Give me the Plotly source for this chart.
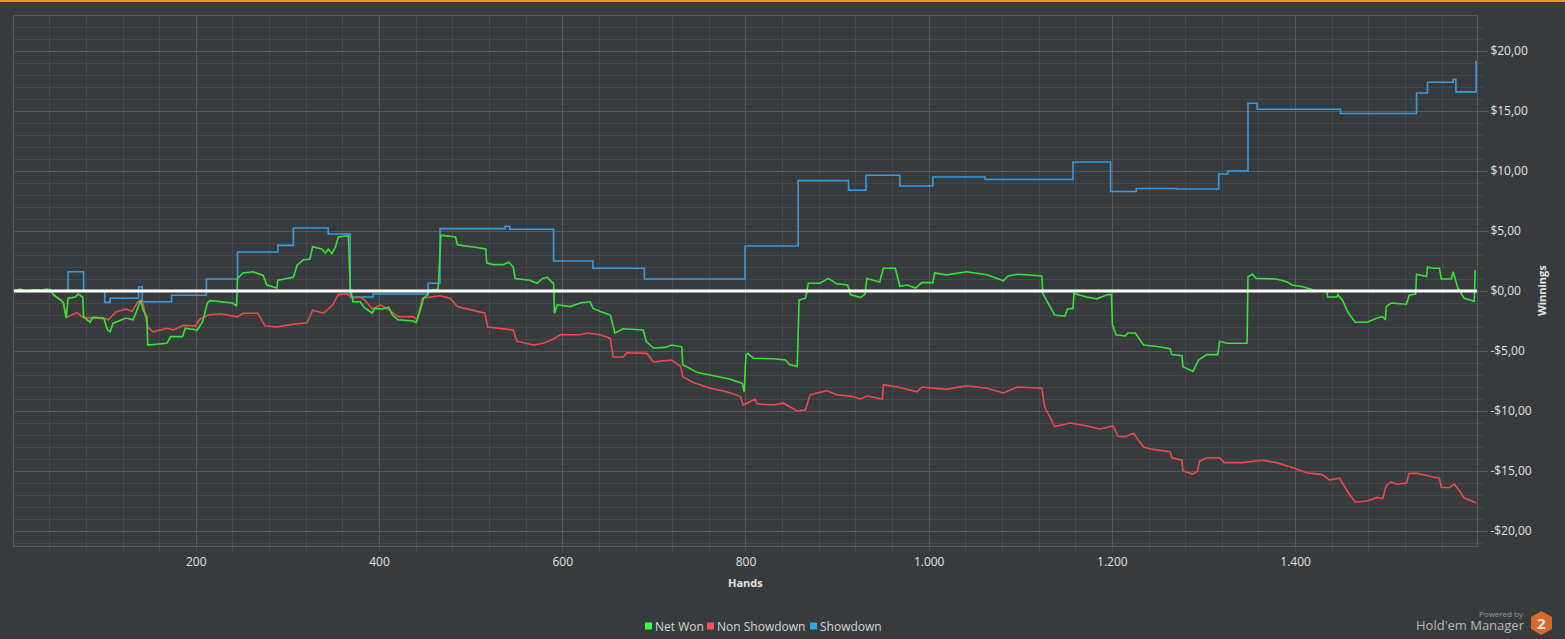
import plotly.graph_objects as go

# hands / values
net_hands = [1, 8, 15, 22, 30, 36, 41, 44, 52, 55, 58, 60, 68, 71, 76, 77, 84, 87, 99, 103, 106, 109, 123, 131,
             136, 139, 142, 146, 147, 157, 168, 172, 185, 188, 201, 207, 212, 215, 240, 244, 245, 251, 262, 273,
             277, 288, 289, 306, 310, 317, 324, 327, 337, 341, 344, 348, 352, 355, 366, 368, 371, 379, 383, 392,
             395, 403, 410, 414, 420, 437, 440, 445, 448, 453, 454, 464, 467, 483, 485, 504, 516, 517, 524, 535,
             541, 546, 548, 564, 572, 578, 583, 588, 590, 591, 594, 608, 619, 630, 633, 641, 652, 657, 666, 688,
             691, 699, 712, 719, 730, 731, 747, 761, 770, 783, 796, 798, 800, 802, 808, 830, 843, 848, 856, 858,
             865, 868, 881, 890, 899, 911, 914, 925, 930, 932, 946, 950, 963, 966, 968, 976, 985, 992, 1004, 1006,
             1019, 1041, 1063, 1081, 1086, 1097, 1123, 1124, 1132, 1137, 1148, 1151, 1157, 1158, 1172, 1183, 1195,
             1199, 1200, 1204, 1214, 1217, 1225, 1234, 1247, 1263, 1265, 1276, 1277, 1288, 1294, 1303, 1315, 1317,
             1325, 1347, 1348, 1353, 1357, 1379, 1391, 1396, 1408, 1423, 1434, 1435, 1445, 1446, 1451, 1457, 1465,
             1478, 1489, 1495, 1498, 1499, 1504, 1521, 1524, 1531, 1532, 1543, 1544, 1550, 1557, 1559, 1570, 1572,
             1577, 1584, 1593, 1595, 1596]
net_won = [0.05, 0.15, 0.0, 0.1, 0.05, 0.15, 0.1, -0.3, -0.75, -1.0, -2.25, -0.6, -0.5, -0.25, -0.5, -2.15, -2.6,
           -2.2, -2.25, -3.25, -3.4, -2.7, -2.25, -2.4, -1.45, -0.75, -1.6, -2.15, -4.5, -4.4, -4.35, -3.8, -3.8,
           -3.1, -3.25, -2.55, -1.0, -0.8, -1.0, -1.25, 1.05, 1.5, 1.6, 1.3, 0.5, 0.25, 0.9, 1.15, 2.15, 2.6, 2.65,
           3.7, 3.5, 3.15, 3.5, 3.1, 3.7, 4.5, 4.6, 0.35, -0.9, -0.9, -1.35, -1.85, -1.45, -1.5, -1.35, -2.0, -2.4,
           -2.5, -2.65, -1.45, -0.6, -0.3, 0.05, 0.15, 4.65, 4.5, 3.85, 3.65, 3.5, 2.35, 2.2, 2.2, 2.4, 2.0, 1.05,
           0.9, 0.65, 1.05, 1.15, 0.75, 0.65, -1.85, -1.15, -1.3, -1.0, -0.9, -1.45, -1.7, -2.0, -3.5, -3.15,
           -3.25, -4.2, -4.75, -4.7, -4.5, -4.65, -6.15, -6.8, -7.0, -7.15, -7.35, -7.7, -8.4, -5.35, -5.2, -5.6,
           -5.65, -5.75, -6.15, -6.3, -0.75, -0.6, 0.65, 0.65, 1.05, 0.6, 0.5, -0.3, -0.55, -0.25, 1.05, 0.75, 1.9,
           1.9, 1.05, 0.4, 0.5, 0.25, 0.7, 0.7, 1.5, 1.35, 1.6, 1.35, 0.85, 1.25, 1.4, 1.25, -0.2, -1.3, -2.0,
           -2.1, -1.5, -1.45, -0.2, -0.5, -0.65, -0.3, -0.3, -2.8, -3.65, -3.75, -3.5, -3.5, -4.5, -4.6, -4.8,
           -5.3, -5.4, -6.3, -6.7, -5.75, -5.3, -5.3, -4.2, -4.35, -4.35, 1.2, 1.4, 1.05, 1.0, 0.75, 0.5, 0.35,
           0.0, 0.0, -0.5, -0.5, -0.3, -0.75, -1.75, -2.6, -2.6, -2.25, -2.15, -2.4, -1.3, -1.0, -1.1, -0.35,
           -0.25, 1.4, 1.2, 2.0, 1.9, 1.9, 1.0, 1.0, 1.6, 0.25, -0.6, -0.8, -0.9, 1.75]

nsd_hands = [1, 8, 15, 22, 30, 36, 41, 44, 52, 55, 58, 70, 76, 101, 104, 112, 123, 130, 136, 141, 147, 153, 168,
             175, 186, 199, 204, 213, 226, 245, 251, 267, 275, 288, 303, 321, 327, 339, 349, 355, 365, 371, 379,
             384, 392, 401, 412, 420, 437, 441, 447, 455, 466, 477, 485, 499, 515, 518, 532, 546, 550, 568, 579,
             590, 597, 619, 627, 641, 652, 655, 666, 670, 692, 699, 719, 729, 731, 742, 761, 779, 794, 797, 810,
             812, 830, 841, 856, 865, 870, 888, 899, 917, 925, 932, 949, 950, 965, 987, 992, 1019, 1041, 1063, 1081,
             1096, 1123, 1126, 1132, 1137, 1154, 1170, 1186, 1201, 1206, 1214, 1223, 1234, 1244, 1263, 1265, 1276,
             1277, 1288, 1293, 1295, 1303, 1317, 1322, 1342, 1364, 1379, 1394, 1412, 1429, 1437, 1448, 1457, 1465,
             1478, 1489, 1495, 1499, 1504, 1510, 1521, 1524, 1533, 1550, 1557, 1559, 1568, 1573, 1579, 1584, 1597]
non_showdown = [0.05, 0.15, 0.0, 0.1, 0.05, 0.15, 0.1, -0.3, -0.75, -1.0, -2.2, -1.8, -2.2, -2.3, -2.4, -1.75,
                -1.5, -1.7, -0.9, -0.75, -3.0, -3.4, -3.1, -3.25, -2.85, -2.9, -2.35, -2.0, -1.9, -2.15, -1.85,
                -1.85, -2.9, -3.0, -2.8, -2.65, -1.6, -1.85, -1.15, -0.3, -0.25, -0.6, -0.5, -0.75, -1.5, -1.15,
                -1.65, -2.15, -2.15, -2.4, -0.6, -0.5, -0.4, -0.6, -1.3, -1.55, -1.85, -3.0, -3.1, -3.25, -4.2,
                -4.5, -4.35, -4.0, -3.65, -3.65, -3.5, -3.65, -3.95, -5.5, -5.5, -5.15, -5.2, -5.9, -5.75, -6.3,
                -7.15, -7.6, -8.1, -8.4, -8.8, -9.5, -9.0, -9.4, -9.5, -9.35, -10.0, -9.9, -8.65, -8.3, -8.65,
                -8.8, -9.0, -8.75, -9.0, -7.8, -8.0, -8.4, -8.0, -8.2, -7.9, -8.1, -8.5, -8.0, -8.1, -9.65, -10.5,
                -11.3, -11.0, -11.2, -11.5, -11.25, -12.1, -12.15, -11.85, -13.0, -13.2, -13.4, -13.9, -14.1, -15.0,
                -15.25, -15.0, -14.2, -13.9, -13.9, -14.3, -14.3, -14.1, -14.3, -14.65, -15.15, -15.3, -15.75,
                -15.6, -16.75, -17.6, -17.5, -17.2, -17.3, -16.2, -15.9, -16.1, -16.0, -15.2, -15.2, -15.5, -15.6,
                -16.35, -16.4, -16.1, -16.65, -17.25, -17.65]

sd_hands = [1, 60, 77, 100, 106, 137, 141, 173, 211, 245, 289, 306, 344, 368, 393, 453, 466, 537, 542, 590, 633,
            689, 799, 857, 912, 931, 968, 1004, 1061, 1157, 1198, 1226, 1270, 1316, 1326, 1348, 1358, 1449, 1532,
            1544, 1572, 1575, 1596, 1597]
showdown = [0.0, 1.6, 0.0, -0.95, -0.6, 0.35, -0.9, -0.35, 1.0, 3.25, 3.8, 5.25, 4.75, -0.5, -0.25, 0.65, 5.2,
            5.4, 5.15, 2.5, 1.9, 1.0, 3.75, 9.2, 8.4, 9.65, 8.75, 9.5, 9.3, 10.75, 8.3, 8.55, 8.5, 9.75, 10.0,
            15.65, 15.15, 14.8, 16.5, 17.4, 17.65, 16.6, 16.6, 19.2]

x_ticks = [200, 400, 600, 800, 1000, 1200, 1400]
x_labels = ['200', '400', '600', '800', '1.000', '1.200', '1.400']
y_ticks = [20, 15, 10, 5, 0, -5, -10, -15, -20]
y_labels = ['$20,00', '$15,00', '$10,00', '$5,00', '$0,00', '-$5,00', '-$10,00', '-$15,00', '-$20,00']

series = ['Net Won', 'Non Showdown', 'Showdown']
colors = ['#36e436', '#e84c4c', '#3a9be0']
legend_colors = ['#33ff44', '#ff4f4f', '#33a6ee']

BG = '#383b3e'
MAJOR = '#56595d'
MINOR = '#45484c'
TXT = '#e2e2e2'
FONT = 'Open Sans'

W, H = 1565, 639
L, R, T, B = 14, 88, 16, 93


def px(x):
    return (x - L) / (W - L - R)


def py(y):
    return (H - B - y) / (H - T - B)


def note(text, x, y, size, color, xanchor='center', **kw):
    return dict(text=text, x=px(x), y=py(y), xref='paper', yref='paper', showarrow=False,
                xanchor=xanchor, yanchor='middle', font=dict(family=FONT, size=size, color=color), **kw)


fig = go.Figure()
fig.add_trace(go.Scatter(x=sd_hands, y=showdown, mode='lines', line=dict(color=colors[2], width=1.6, shape='hv'),
                         name=series[2], showlegend=False, hoverinfo='skip'))
fig.add_trace(go.Scatter(x=nsd_hands, y=non_showdown, mode='lines', line=dict(color=colors[1], width=1.6),
                         name=series[1], showlegend=False, hoverinfo='skip'))
fig.add_trace(go.Scatter(x=net_hands, y=net_won, mode='lines', line=dict(color=colors[0], width=1.6),
                         name=series[0], showlegend=False, hoverinfo='skip'))

shapes = [
    # white zero line on top of the series
    dict(type='line', xref='paper', yref='y', x0=0, x1=1, y0=0, y1=0, line=dict(color='white', width=3),
         layer='above'),
    # orange strip at the very top of the page
    dict(type='rect', xref='paper', yref='paper', x0=px(0), x1=px(W), y0=py(0), y1=py(2),
         fillcolor='#e8952a', line=dict(width=0), layer='above'),
    # Hold'em Manager badge
    dict(type='path', xref='paper', yref='paper',
         path='M {} {} L {} {} L {} {} L {} {} L {} {} L {} {} Z'.format(
             px(1541.5), py(611), px(1552), py(617), px(1552), py(629),
             px(1541.5), py(635), px(1531), py(629), px(1531), py(617)),
         fillcolor='#d8692a', line=dict(width=0), layer='above'),
]

annotations = [
    note('<b>Hands</b>', 745, 582, 11, TXT),
    note('<b>Winnings</b>', 1541, 291, 11, TXT, textangle=-90),
    note('Powered by', 1526, 613, 8, '#9a9a9a', xanchor='right'),
    note("Hold'em Manager", 1527, 625, 13, '#b8b8b8', xanchor='right'),
    note('<b>2</b>', 1541.5, 623, 15, '#eeeeee'),
]

# legend drawn as square swatches and names, laid out like the reference
legend_x = [645, 707, 810]
for name, c, lx in zip(series, legend_colors, legend_x):
    shapes.append(dict(type='rect', xref='paper', yref='paper', x0=px(lx), x1=px(lx + 7),
                       y0=py(622.5), y1=py(629.5), fillcolor=c, line=dict(width=0)))
    annotations.append(note(name, lx + 8, 626, 12, '#d6d6d6', xanchor='left'))

fig.update_layout(
    width=W, height=H,
    paper_bgcolor=BG, plot_bgcolor=BG,
    margin=dict(l=L, r=R, t=T, b=B),
    font=dict(family=FONT, size=12, color=TXT),
    showlegend=False,
    shapes=shapes,
    annotations=annotations,
    xaxis=dict(range=[1, 1598], tickmode='array', tickvals=x_ticks, ticktext=x_labels,
               showgrid=True, gridcolor=MAJOR, gridwidth=1, zeroline=False,
               ticks='outside', ticklen=5, tickcolor=MINOR,
               showline=True, linecolor=MAJOR, mirror=True,
               minor=dict(tickmode='linear', tick0=0, dtick=40, showgrid=True, gridcolor=MINOR,
                          ticks='outside', ticklen=5, tickcolor=MINOR),
               tickfont=dict(family=FONT, size=12, color=TXT)),
    yaxis=dict(range=[-21.25, 22.92], side='right', tickmode='array', tickvals=y_ticks, ticktext=y_labels,
               showgrid=True, gridcolor=MAJOR, gridwidth=1, zeroline=False,
               ticks='outside', ticklen=10, tickcolor=MAJOR,
               showline=True, linecolor=MAJOR, mirror=True,
               minor=dict(tickmode='linear', tick0=0, dtick=1, showgrid=True, gridcolor=MINOR,
                          ticks='outside', ticklen=5, tickcolor=MINOR),
               tickfont=dict(family=FONT, size=12, color=TXT)),
)

# drop the browser's default 8px page margin so the figure fills the window
fig.write_html('out.html', config={'displayModeBar': False},
               post_script="document.body.style.margin='0';document.body.style.background='#383b3e';")
